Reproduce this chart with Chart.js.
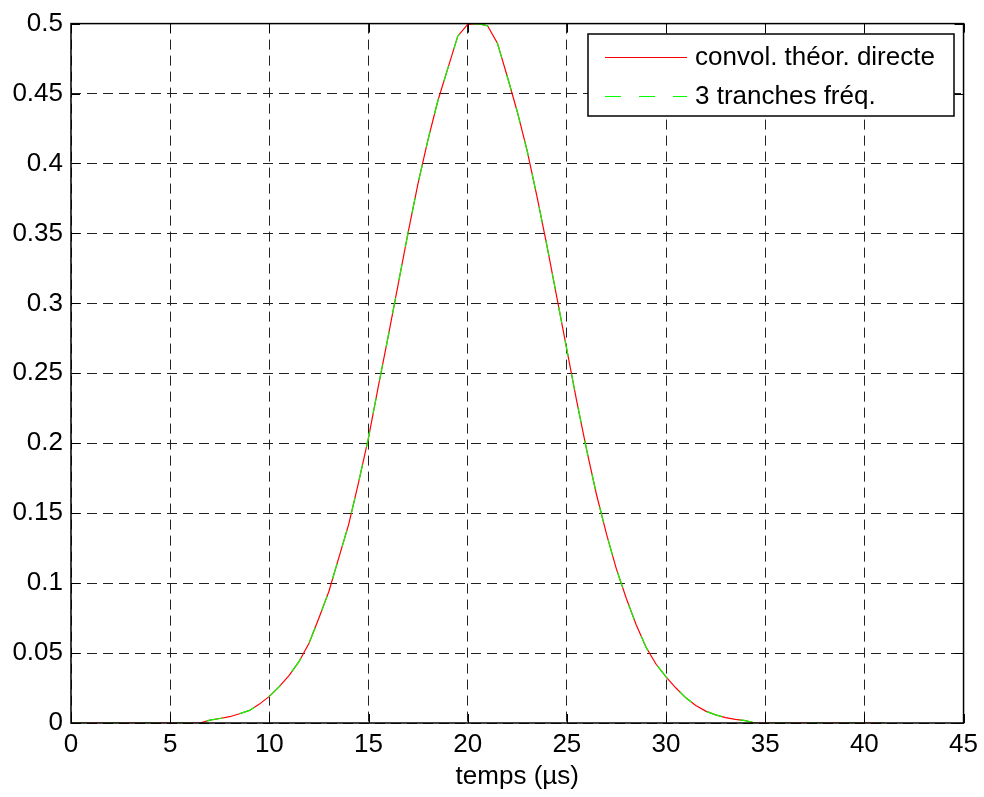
<!DOCTYPE html>
<html lang="fr">
<head>
<meta charset="UTF-8">
<title>Convolution</title>
<script src="https://cdn.jsdelivr.net/npm/chart.js"></script>
<style>
  html, body { margin: 0; padding: 0; background: #fff; }
  #cadre { width: 984px; height: 797px; }
</style>
</head>
<body>
<div id="cadre"><canvas id="graphe"></canvas></div>
<script>
  // temps en µs, pas de 0.5
  const tempsUs = [];
  for (let i = 0; i <= 82; i++) tempsUs.push(i * 0.5);

  const convolDirecte = [
    0, 0, 0, 0, 0, 0, 0, 0, 0, 0, 0, 0, 0, 0,
    0.002, 0.0032, 0.0045, 0.0066, 0.009, 0.0135, 0.019, 0.026, 0.034, 0.044,
    0.057, 0.075, 0.094, 0.118, 0.142, 0.172, 0.204, 0.241, 0.277, 0.314,
    0.351, 0.386, 0.417, 0.445, 0.468, 0.491, 0.4995, 0.500, 0.4985, 0.486,
    0.462, 0.437, 0.409, 0.376, 0.341, 0.304, 0.267, 0.230, 0.195, 0.163,
    0.135, 0.110, 0.089, 0.070, 0.054, 0.042, 0.033, 0.025, 0.018, 0.0125,
    0.0085, 0.0058, 0.0039, 0.0026, 0.0017,
    0, 0, 0, 0, 0, 0, 0, 0, 0, 0, 0, 0, 0, 0
  ];

  const tranchesFreq = [
    0, 0, 0, 0, 0, 0, 0, 0, 0, 0, 0, 0, 0, 0,
    0.002, 0.0032, 0.0045, 0.0066, 0.009, 0.0135, 0.019, 0.026, 0.034, 0.044,
    0.057, 0.075, 0.094, 0.118, 0.142, 0.172, 0.204, 0.241, 0.277, 0.314,
    0.351, 0.386, 0.417, 0.445, 0.468, 0.491, 0.4995, 0.500, 0.4985, 0.486,
    0.462, 0.437, 0.409, 0.376, 0.341, 0.304, 0.267, 0.230, 0.195, 0.163,
    0.135, 0.110, 0.089, 0.070, 0.054, 0.042, 0.033, 0.025, 0.018, 0.0125,
    0.0085, 0.0058, 0.0039, 0.0026, 0.0017,
    0, 0, 0, 0, 0, 0, 0, 0, 0, 0, 0, 0, 0, 0
  ];

  const xTicks = [0, 5, 10, 15, 20, 25, 30, 35, 40, 45];
  const xTickLabels = ["0", "5", "10", "15", "20", "25", "30", "35", "40", "45"];
  const yTicks = [0, 0.05, 0.1, 0.15, 0.2, 0.25, 0.3, 0.35, 0.4, 0.45, 0.5];
  const yTickLabels = ["0", "0.05", "0.1", "0.15", "0.2", "0.25", "0.3", "0.35", "0.4", "0.45", "0.5"];

  const police = { family: "'Liberation Sans', Arial, sans-serif", size: 26 };
  const pointsDe = (ys) => tempsUs.map((t, i) => ({ x: t, y: ys[i] }));

  const series = [
    { label: "convol. théor. directe", data: pointsDe(convolDirecte), borderColor: "#ff0000", borderWidth: 1.2, order: 1 },
    { label: "3 tranches fréq.", data: pointsDe(tranchesFreq), borderColor: "#00ff00", borderWidth: 1.2, borderDash: [16, 18], order: 0 }
  ];

  // cadre noir + petites graduations intérieures (style Matlab)
  const cadreMatlab = {
    id: "cadreMatlab",
    afterDatasetsDraw(chart) {
      const { ctx, chartArea: a, scales } = chart;
      ctx.save();
      ctx.strokeStyle = "#000";
      ctx.lineWidth = 1;
      ctx.setLineDash([]);
      ctx.beginPath();
      xTicks.forEach(v => {
        const px = Math.round(scales.x.getPixelForValue(v)) + 0.5;
        ctx.moveTo(px, a.bottom); ctx.lineTo(px, a.bottom - 9);
        ctx.moveTo(px, a.top); ctx.lineTo(px, a.top + 9);
      });
      yTicks.forEach(v => {
        const py = Math.round(scales.y.getPixelForValue(v)) + 0.5;
        ctx.moveTo(a.left, py); ctx.lineTo(a.left + 9, py);
        ctx.moveTo(a.right, py); ctx.lineTo(a.right - 9, py);
      });
      ctx.stroke();
      ctx.lineWidth = 1.5;
      ctx.strokeRect(a.left, a.top, a.right - a.left, a.bottom - a.top);
      ctx.restore();
    },
    afterDraw(chart) {
      const ctx = chart.ctx;
      ctx.save();
      ctx.fillStyle = "#fff";
      ctx.fillRect(588, 34, 366, 82);
      ctx.strokeStyle = "#000";
      ctx.lineWidth = 1.5;
      ctx.strokeRect(588, 34, 366, 82);
      ctx.font = police.size + "px " + police.family;
      ctx.textBaseline = "middle";
      const lignes = [57, 96];
      chart.data.datasets.forEach((ds, i) => {
        const y = lignes[i] + 0.5;
        ctx.strokeStyle = ds.borderColor;
        ctx.lineWidth = 1.2;
        ctx.setLineDash(ds.borderDash || []);
        ctx.beginPath();
        ctx.moveTo(605, y);
        ctx.lineTo(687, y);
        ctx.stroke();
        ctx.setLineDash([]);
        ctx.fillStyle = "#000";
        ctx.fillText(ds.label, 695, lignes[i] + 1);
      });
      ctx.restore();
    }
  };

  new Chart(document.getElementById("graphe"), {
    type: "line",
    data: {
      datasets: series.map(s => Object.assign({ pointRadius: 0, fill: false, tension: 0 }, s))
    },
    options: {
      responsive: true,
      maintainAspectRatio: false,
      animation: false,
      layout: { padding: { top: 20, right: 17, left: 0, bottom: 0 } },
      plugins: { legend: { display: false }, tooltip: { enabled: false } },
      scales: {
        x: {
          type: "linear",
          min: 0,
          max: 45,
          afterBuildTicks: s => { s.ticks = xTicks.map(v => ({ value: v })); },
          afterFit: s => { s.height = 74; },
          ticks: {
            callback: (v, i) => xTickLabels[i],
            font: police,
            color: "#000",
            padding: 6,
            maxRotation: 0,
            autoSkip: false
          },
          grid: { color: "#222", lineWidth: 1, drawTicks: false },
          border: { display: false, dash: [10, 6] },
          title: { display: true, text: "temps (µs)", font: police, color: "#000", padding: { top: 0, bottom: 5 } }
        },
        y: {
          min: 0,
          max: 0.5,
          afterBuildTicks: s => { s.ticks = yTicks.map(v => ({ value: v })); },
          afterFit: s => { s.width = 71; },
          ticks: {
            callback: (v, i) => yTickLabels[i],
            font: police,
            color: "#000",
            padding: 8,
            autoSkip: false
          },
          grid: { color: "#222", lineWidth: 1, drawTicks: false },
          border: { display: false, dash: [10, 6] }
        }
      }
    },
    plugins: [cadreMatlab]
  });
</script>
</body>
</html>
